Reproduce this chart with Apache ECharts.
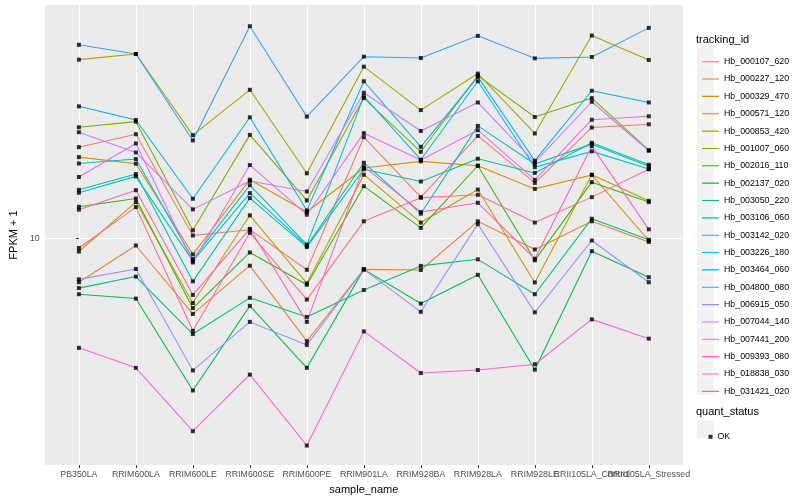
<!DOCTYPE html>
<html><head><meta charset="utf-8">
<script src="https://cdn.jsdelivr.net/npm/echarts@6/dist/echarts.min.js"></script>
<style>html,body{margin:0;padding:0;background:#fff}#c{width:800px;height:500px}</style>
</head><body><div id="c"></div>
<script>
const categories = ['PB350LA','RRIM600LA','RRIM600LE','RRIM600SE','RRIM600PE','RRIM901LA','RRIM928BA','RRIM928LA','RRIM928LE','RRII105LA_Control','RRII105LA_Stressed'];
const trackingIds = ['Hb_000107_620','Hb_000227_120','Hb_000329_470','Hb_000571_120','Hb_000853_420','Hb_001007_060','Hb_002016_110','Hb_002137_020','Hb_003050_220','Hb_003106_060','Hb_003142_020','Hb_003226_180','Hb_003464_060','Hb_004800_080','Hb_006915_050','Hb_007044_140','Hb_007441_200','Hb_009393_080','Hb_018838_030','Hb_031421_020'];
const colors = ['#F8766D','#EA8331','#D89000','#C09B00','#A3A500','#7CAE00','#39B600','#00BB4E','#00BF7D','#00C1A3','#00BFC4','#00BAE0','#00B0F6','#35A2FF','#9590FF','#C77CFF','#E76BF3','#FA62DB','#FF62BC','#FF6C91'];
const yTicks = [10];

const Hb_000107_620 = [16.95,18.27,10.16,10.51,8.33,17.96,12.69,18.09,13.78,18.99,19.35];
const Hb_000227_120 = [7.75,9.59,6.45,8.53,5.51,8.35,8.32,11.03,9.37,11.03,9.79];
const Hb_000329_470 = [16.00,15.40,9.11,14.04,11.64,15.02,15.61,15.22,13.31,14.43,9.87];
const Hb_000571_120 = [9.26,12.33,6.87,11.42,7.70,14.45,10.95,13.26,7.74,14.45,12.42];
const Hb_000853_420 = [28.14,29.08,18.17,23.63,14.57,27.02,21.01,25.96,18.35,32.36,28.09];
const Hb_001007_060 = [19.02,19.65,10.47,18.20,12.45,22.52,16.50,25.66,20.18,22.52,16.66];
const Hb_002016_110 = [12.00,12.59,6.67,9.21,7.64,13.52,10.62,15.22,8.80,13.84,12.33];
const Hb_002137_020 = [7.23,7.05,4.14,6.76,4.72,8.35,6.85,8.09,4.67,9.28,7.98];
const Hb_003050_220 = [7.49,8.01,5.74,7.08,6.34,7.41,8.52,8.85,7.23,11.20,9.91];
const Hb_003106_060 = [13.24,14.51,7.79,12.62,9.50,14.91,13.89,15.85,14.60,17.38,15.31];
const Hb_003142_020 = [13.01,14.31,8.76,12.99,9.57,15.49,11.53,19.17,15.37,17.25,15.17];
const Hb_003226_180 = [15.42,15.82,8.86,13.60,9.64,22.74,15.76,24.83,15.09,16.54,14.94];
const Hb_003464_060 = [21.47,19.84,12.57,20.15,11.75,24.83,16.98,25.47,15.67,23.50,21.96];
const Hb_004800_080 = [30.67,29.08,17.62,34.16,20.23,28.63,28.41,32.30,28.35,28.58,33.83];
const Hb_006915_050 = [7.88,8.37,4.65,6.16,5.39,8.35,6.53,10.85,6.51,9.87,7.75];
const Hb_007044_140 = [18.48,16.44,11.82,13.93,13.11,23.23,18.62,21.96,15.52,22.05,16.60];
const Hb_007441_200 = [14.26,17.32,8.69,15.28,11.46,18.38,15.73,18.70,14.02,19.87,20.27];
const Hb_009393_080 = [5.30,4.72,3.27,4.54,3.01,5.83,4.58,4.66,4.82,6.25,5.59];
const Hb_018838_030 = [11.80,13.21,7.20,10.56,6.16,15.14,11.64,12.28,8.88,17.05,10.53];
const Hb_031421_020 = [9.45,11.98,5.85,10.32,7.01,11.03,12.64,12.86,10.95,12.69,14.91];

const seriesValues = [Hb_000107_620,Hb_000227_120,Hb_000329_470,Hb_000571_120,Hb_000853_420,Hb_001007_060,Hb_002016_110,Hb_002137_020,Hb_003050_220,Hb_003106_060,Hb_003142_020,Hb_003226_180,Hb_003464_060,Hb_004800_080,Hb_006915_050,Hb_007044_140,Hb_007441_200,Hb_009393_080,Hb_018838_030,Hb_031421_020];

const FONT = '"Liberation Sans", Arial, Helvetica, sans-serif';
const catIdx = categories.map((c, i) => i);
// ggplot lets neighbouring labels overlap; split them over two label rows of the same axis range
const labelsA = catIdx.filter(i => i % 2 === 0);
const labelsB = catIdx.filter(i => i % 2 === 1);

const series = trackingIds.map((id, k) => ({
  name: id, type: 'line', z: 2, xAxisIndex: 0,
  data: seriesValues[k].map((v, i) => [i, v]),
  showSymbol: false, symbol: 'none',
  lineStyle: { color: colors[k], width: 1.07 },
  itemStyle: { color: colors[k] },
  emphasis: { disabled: true }
}));
const okPoints = [];
seriesValues.forEach(arr => arr.forEach((v, i) => okPoints.push([i, v])));
series.push({
  name: 'OK', type: 'scatter', z: 5, symbol: 'rect', symbolSize: 4, xAxisIndex: 0,
  itemStyle: { color: '#000' }, data: okPoints, emphasis: { disabled: true }
});

const keyTop = 48.2, keyStep = 17.35;
const keyRects = trackingIds.map((id, k) => ({
  type: 'rect', z: 0, shape: { x: 697, y: keyTop + k * keyStep, width: 17, height: 17 },
  style: { fill: '#F2F2F2' }
}));
keyRects.push({ type: 'rect', z: 0, shape: { x: 697, y: 420.8, width: 17, height: 17 }, style: { fill: '#F2F2F2' } });

const lineIcon = 'path://M0,0L0.001,0L0.001,0.001Z M17,17L16.999,17L16.999,16.999Z M0,7.95L17,7.95L17,9.05L0,9.05Z';

const labelStyle = { formatter: v => categories[Math.round(v)], fontSize: 8.8, color: '#4D4D4D', margin: 5, fontFamily: FONT, hideOverlap: false, showMinLabel: true, showMaxLabel: true };

const chart = echarts.init(document.getElementById('c'), null, { renderer: 'canvas' });
chart.setOption({
  animation: false,
  backgroundColor: '#fff',
  textStyle: { fontFamily: FONT },
  grid: { left: 35, right: 117, top: 5, bottom: 32, show: true, backgroundColor: '#EBEBEB', borderWidth: 0 },
  xAxis: [{
    type: 'value', min: -0.6, max: 10.6, position: 'bottom',
    axisLine: { show: false },
    axisTick: { show: true, length: 3, lineStyle: { color: '#333', width: 1 }, customValues: catIdx },
    axisLabel: Object.assign({ customValues: labelsA }, labelStyle),
    splitLine: { show: true, lineStyle: { color: '#fff', width: 1.07 } },
    name: 'sample_name', nameLocation: 'middle', nameGap: 14.8,
    nameTextStyle: { fontSize: 11, color: '#000', fontFamily: FONT }
  }, {
    type: 'value', min: -0.6, max: 10.6, position: 'bottom', offset: 0,
    axisLine: { show: false }, axisTick: { show: false }, splitLine: { show: false },
    axisLabel: Object.assign({ customValues: labelsB }, labelStyle)
  }],
  yAxis: {
    type: 'log', logBase: 10, min: 2.687, max: 38.62,
    axisLine: { show: false },
    axisTick: { show: true, length: 3, lineStyle: { color: '#333', width: 1 }, customValues: yTicks },
    axisLabel: { customValues: yTicks, fontSize: 8.8, color: '#4D4D4D', margin: 5, fontFamily: FONT },
    splitLine: { show: true, lineStyle: { color: '#fff', width: 1.07 } },
    minorSplitLine: { show: false },
    name: 'FPKM + 1', nameLocation: 'middle', nameGap: 17, nameRotate: 90,
    nameTextStyle: { fontSize: 11, color: '#000', fontFamily: FONT }
  },
  legend: [{
    data: trackingIds, orient: 'vertical', left: 697, top: keyTop,
    itemWidth: 17, itemHeight: 17, itemGap: 0.35, symbolKeepAspect: true,
    icon: lineIcon, selectedMode: false, z: 6,
    textStyle: { fontSize: 8.8, color: '#000', fontFamily: FONT }
  }, {
    data: ['OK'], orient: 'vertical', left: 703.5, top: 427.3,
    itemWidth: 4, itemHeight: 4, icon: 'rect', selectedMode: false, z: 6,
    textStyle: { fontSize: 8.8, color: '#000', fontFamily: FONT }
  }],
  graphic: { elements: keyRects.concat([
    { type: 'text', z: 6, left: 696, top: 34.5, style: { text: 'tracking_id', fontSize: 11, fill: '#000', fontFamily: FONT } },
    { type: 'text', z: 6, left: 696, top: 406, style: { text: 'quant_status', fontSize: 11, fill: '#000', fontFamily: FONT } }
  ]) },
  series: series
});
</script></body></html>
